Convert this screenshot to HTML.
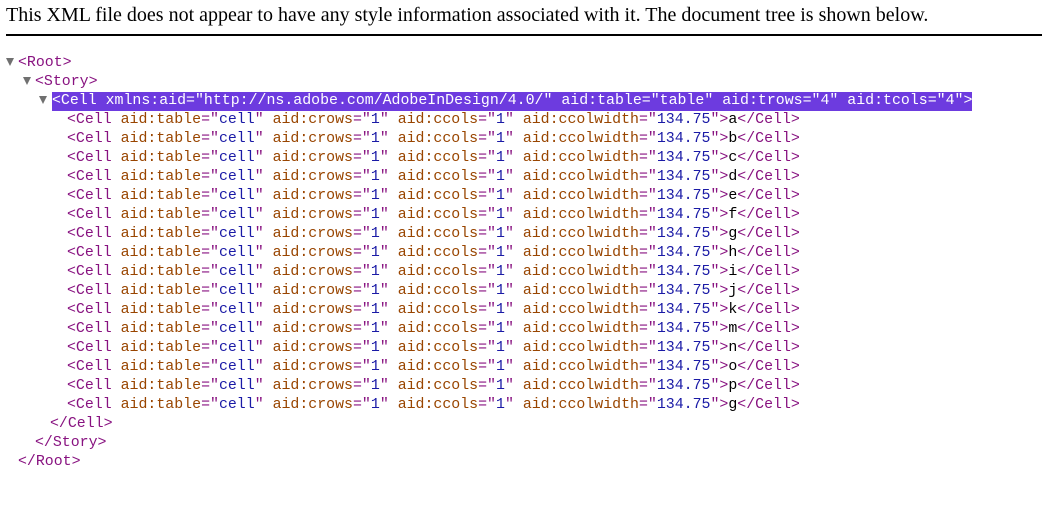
<!DOCTYPE html>
<html><head><style>
body{margin:0;width:1042px;height:530px;background:#fff;position:relative;overflow:hidden}
.hdr{position:absolute;left:6px;top:4px;font-family:"Liberation Serif",serif;font-size:20px;color:#000;white-space:nowrap}
.rule{position:absolute;left:6px;top:34px;width:1036px;height:2px;background:#000}
.w{position:absolute;left:0;top:4px;width:1042px;height:500px}
.l{position:absolute;height:19px;line-height:19px;font-family:"Liberation Mono",monospace;font-size:14.9px;white-space:pre}
.t{color:#881280}.a{color:#994500}.v{color:#1a1aa6}.x{color:#000}
.tri{position:absolute;width:0;height:0;border-left:4.5px solid transparent;border-right:4.5px solid transparent;border-top:8px solid #707070}
.hl{background:#6d3bdf}.hl span{color:#fff}
</style></head><body>
<div class="hdr">This XML file does not appear to have any style information associated with it. The document tree is shown below.</div>
<div class="rule"></div>
<div class="w">
<div class="tri" style="left:6px;top:54px"></div>
<div class="l" style="left:18px;top:50px"><span class="t">&lt;Root&gt;</span></div>
<div class="tri" style="left:23px;top:73px"></div>
<div class="l" style="left:35px;top:69px"><span class="t">&lt;Story&gt;</span></div>
<div class="tri" style="left:39px;top:92px"></div>
<div class="l hl" style="left:52px;top:88px"><span>&lt;Cell xmlns:aid="http://ns.adobe.com/AdobeInDesign/4.0/" aid:table="table" aid:trows="4" aid:tcols="4"&gt;</span></div>
<div class="l" style="left:50px;top:411px"><span class="t">&lt;/Cell&gt;</span></div>
<div class="l" style="left:35px;top:430px"><span class="t">&lt;/Story&gt;</span></div>
<div class="l" style="left:18px;top:449px"><span class="t">&lt;/Root&gt;</span></div>
<div class="l" style="left:67px;top:107px"><span class="t">&lt;Cell </span><span class="a">aid:table</span><span class="t">="</span><span class="v">cell</span><span class="t">" </span><span class="a">aid:crows</span><span class="t">="</span><span class="v">1</span><span class="t">" </span><span class="a">aid:ccols</span><span class="t">="</span><span class="v">1</span><span class="t">" </span><span class="a">aid:ccolwidth</span><span class="t">="</span><span class="v">134.75</span><span class="t">"&gt;</span><span class="x">a</span><span class="t">&lt;/Cell&gt;</span></div>
<div class="l" style="left:67px;top:126px"><span class="t">&lt;Cell </span><span class="a">aid:table</span><span class="t">="</span><span class="v">cell</span><span class="t">" </span><span class="a">aid:crows</span><span class="t">="</span><span class="v">1</span><span class="t">" </span><span class="a">aid:ccols</span><span class="t">="</span><span class="v">1</span><span class="t">" </span><span class="a">aid:ccolwidth</span><span class="t">="</span><span class="v">134.75</span><span class="t">"&gt;</span><span class="x">b</span><span class="t">&lt;/Cell&gt;</span></div>
<div class="l" style="left:67px;top:145px"><span class="t">&lt;Cell </span><span class="a">aid:table</span><span class="t">="</span><span class="v">cell</span><span class="t">" </span><span class="a">aid:crows</span><span class="t">="</span><span class="v">1</span><span class="t">" </span><span class="a">aid:ccols</span><span class="t">="</span><span class="v">1</span><span class="t">" </span><span class="a">aid:ccolwidth</span><span class="t">="</span><span class="v">134.75</span><span class="t">"&gt;</span><span class="x">c</span><span class="t">&lt;/Cell&gt;</span></div>
<div class="l" style="left:67px;top:164px"><span class="t">&lt;Cell </span><span class="a">aid:table</span><span class="t">="</span><span class="v">cell</span><span class="t">" </span><span class="a">aid:crows</span><span class="t">="</span><span class="v">1</span><span class="t">" </span><span class="a">aid:ccols</span><span class="t">="</span><span class="v">1</span><span class="t">" </span><span class="a">aid:ccolwidth</span><span class="t">="</span><span class="v">134.75</span><span class="t">"&gt;</span><span class="x">d</span><span class="t">&lt;/Cell&gt;</span></div>
<div class="l" style="left:67px;top:183px"><span class="t">&lt;Cell </span><span class="a">aid:table</span><span class="t">="</span><span class="v">cell</span><span class="t">" </span><span class="a">aid:crows</span><span class="t">="</span><span class="v">1</span><span class="t">" </span><span class="a">aid:ccols</span><span class="t">="</span><span class="v">1</span><span class="t">" </span><span class="a">aid:ccolwidth</span><span class="t">="</span><span class="v">134.75</span><span class="t">"&gt;</span><span class="x">e</span><span class="t">&lt;/Cell&gt;</span></div>
<div class="l" style="left:67px;top:202px"><span class="t">&lt;Cell </span><span class="a">aid:table</span><span class="t">="</span><span class="v">cell</span><span class="t">" </span><span class="a">aid:crows</span><span class="t">="</span><span class="v">1</span><span class="t">" </span><span class="a">aid:ccols</span><span class="t">="</span><span class="v">1</span><span class="t">" </span><span class="a">aid:ccolwidth</span><span class="t">="</span><span class="v">134.75</span><span class="t">"&gt;</span><span class="x">f</span><span class="t">&lt;/Cell&gt;</span></div>
<div class="l" style="left:67px;top:221px"><span class="t">&lt;Cell </span><span class="a">aid:table</span><span class="t">="</span><span class="v">cell</span><span class="t">" </span><span class="a">aid:crows</span><span class="t">="</span><span class="v">1</span><span class="t">" </span><span class="a">aid:ccols</span><span class="t">="</span><span class="v">1</span><span class="t">" </span><span class="a">aid:ccolwidth</span><span class="t">="</span><span class="v">134.75</span><span class="t">"&gt;</span><span class="x">g</span><span class="t">&lt;/Cell&gt;</span></div>
<div class="l" style="left:67px;top:240px"><span class="t">&lt;Cell </span><span class="a">aid:table</span><span class="t">="</span><span class="v">cell</span><span class="t">" </span><span class="a">aid:crows</span><span class="t">="</span><span class="v">1</span><span class="t">" </span><span class="a">aid:ccols</span><span class="t">="</span><span class="v">1</span><span class="t">" </span><span class="a">aid:ccolwidth</span><span class="t">="</span><span class="v">134.75</span><span class="t">"&gt;</span><span class="x">h</span><span class="t">&lt;/Cell&gt;</span></div>
<div class="l" style="left:67px;top:259px"><span class="t">&lt;Cell </span><span class="a">aid:table</span><span class="t">="</span><span class="v">cell</span><span class="t">" </span><span class="a">aid:crows</span><span class="t">="</span><span class="v">1</span><span class="t">" </span><span class="a">aid:ccols</span><span class="t">="</span><span class="v">1</span><span class="t">" </span><span class="a">aid:ccolwidth</span><span class="t">="</span><span class="v">134.75</span><span class="t">"&gt;</span><span class="x">i</span><span class="t">&lt;/Cell&gt;</span></div>
<div class="l" style="left:67px;top:278px"><span class="t">&lt;Cell </span><span class="a">aid:table</span><span class="t">="</span><span class="v">cell</span><span class="t">" </span><span class="a">aid:crows</span><span class="t">="</span><span class="v">1</span><span class="t">" </span><span class="a">aid:ccols</span><span class="t">="</span><span class="v">1</span><span class="t">" </span><span class="a">aid:ccolwidth</span><span class="t">="</span><span class="v">134.75</span><span class="t">"&gt;</span><span class="x">j</span><span class="t">&lt;/Cell&gt;</span></div>
<div class="l" style="left:67px;top:297px"><span class="t">&lt;Cell </span><span class="a">aid:table</span><span class="t">="</span><span class="v">cell</span><span class="t">" </span><span class="a">aid:crows</span><span class="t">="</span><span class="v">1</span><span class="t">" </span><span class="a">aid:ccols</span><span class="t">="</span><span class="v">1</span><span class="t">" </span><span class="a">aid:ccolwidth</span><span class="t">="</span><span class="v">134.75</span><span class="t">"&gt;</span><span class="x">k</span><span class="t">&lt;/Cell&gt;</span></div>
<div class="l" style="left:67px;top:316px"><span class="t">&lt;Cell </span><span class="a">aid:table</span><span class="t">="</span><span class="v">cell</span><span class="t">" </span><span class="a">aid:crows</span><span class="t">="</span><span class="v">1</span><span class="t">" </span><span class="a">aid:ccols</span><span class="t">="</span><span class="v">1</span><span class="t">" </span><span class="a">aid:ccolwidth</span><span class="t">="</span><span class="v">134.75</span><span class="t">"&gt;</span><span class="x">m</span><span class="t">&lt;/Cell&gt;</span></div>
<div class="l" style="left:67px;top:335px"><span class="t">&lt;Cell </span><span class="a">aid:table</span><span class="t">="</span><span class="v">cell</span><span class="t">" </span><span class="a">aid:crows</span><span class="t">="</span><span class="v">1</span><span class="t">" </span><span class="a">aid:ccols</span><span class="t">="</span><span class="v">1</span><span class="t">" </span><span class="a">aid:ccolwidth</span><span class="t">="</span><span class="v">134.75</span><span class="t">"&gt;</span><span class="x">n</span><span class="t">&lt;/Cell&gt;</span></div>
<div class="l" style="left:67px;top:354px"><span class="t">&lt;Cell </span><span class="a">aid:table</span><span class="t">="</span><span class="v">cell</span><span class="t">" </span><span class="a">aid:crows</span><span class="t">="</span><span class="v">1</span><span class="t">" </span><span class="a">aid:ccols</span><span class="t">="</span><span class="v">1</span><span class="t">" </span><span class="a">aid:ccolwidth</span><span class="t">="</span><span class="v">134.75</span><span class="t">"&gt;</span><span class="x">o</span><span class="t">&lt;/Cell&gt;</span></div>
<div class="l" style="left:67px;top:373px"><span class="t">&lt;Cell </span><span class="a">aid:table</span><span class="t">="</span><span class="v">cell</span><span class="t">" </span><span class="a">aid:crows</span><span class="t">="</span><span class="v">1</span><span class="t">" </span><span class="a">aid:ccols</span><span class="t">="</span><span class="v">1</span><span class="t">" </span><span class="a">aid:ccolwidth</span><span class="t">="</span><span class="v">134.75</span><span class="t">"&gt;</span><span class="x">p</span><span class="t">&lt;/Cell&gt;</span></div>
<div class="l" style="left:67px;top:392px"><span class="t">&lt;Cell </span><span class="a">aid:table</span><span class="t">="</span><span class="v">cell</span><span class="t">" </span><span class="a">aid:crows</span><span class="t">="</span><span class="v">1</span><span class="t">" </span><span class="a">aid:ccols</span><span class="t">="</span><span class="v">1</span><span class="t">" </span><span class="a">aid:ccolwidth</span><span class="t">="</span><span class="v">134.75</span><span class="t">"&gt;</span><span class="x">g</span><span class="t">&lt;/Cell&gt;</span></div>
</div>
</body></html>
